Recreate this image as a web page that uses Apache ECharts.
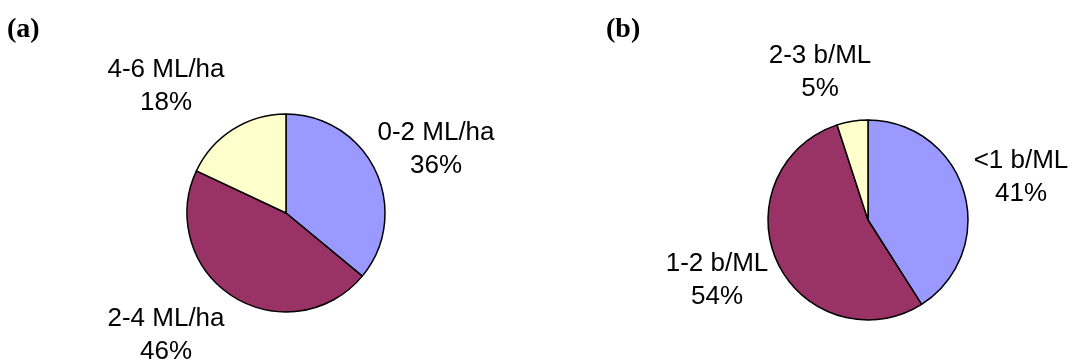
<!DOCTYPE html>
<html>
<head>
<meta charset="utf-8">
<script src="https://cdn.jsdelivr.net/npm/echarts@6/dist/echarts.min.js"></script>
<style>
  html, body { margin: 0; padding: 0; background: #fff; }
  #pieChart { width: 1077px; height: 360px; }
</style>
</head>
<body>
<div id="pieChart"></div>
<script>
// 两个饼图 (a) 灌溉量 (b) 比例
var namesA = ['0-2 ML/ha', '2-4 ML/ha', '4-6 ML/ha']
var valuesA = [36, 46, 18]
var namesB = ['<1 b/ML', '1-2 b/ML', '2-3 b/ML']
var valuesB = [41, 54, 5]
var panelTitles = ['(a)', '(b)']

var pieColors = ['#9999ff', '#993366', '#ffffcc']

// 标签位置 (像素)
var labelPosA = [[436, 149], [166, 335], [166, 86]]
var labelPosB = [[1021, 177], [717, 280], [820, 72]]

var pieDom = document.getElementById('pieChart')
var pieChart = echarts.init(pieDom)

function toData(names, values) {
  return names.map(function (n, i) {
    return { name: n, value: values[i] }
  })
}

function initPieSeries(data, center, radius, pos) {
  return {
    type: 'pie',
    radius: radius,
    center: center,
    startAngle: 90,
    clockwise: true,
    animation: false,
    silent: true,
    color: pieColors,
    itemStyle: {
      borderColor: '#000',
      borderWidth: 1.5
    },
    label: {
      show: true,
      position: 'outside',
      overflow: 'none',
      formatter: '{b}\n{c}%',
      color: '#000',
      fontFamily: 'Liberation Sans, Arial',
      fontSize: 26,
      lineHeight: 33,
      align: 'center'
    },
    labelLine: { show: false },
    labelLayout: function (params) {
      var p = pos[params.dataIndex]
      return { x: p[0], y: p[1], align: 'center', verticalAlign: 'middle', width: 200 }
    },
    data: data
  }
}

var titleStyle = { fontFamily: 'Liberation Serif', fontWeight: 'bold', fontSize: 28, color: '#000' }

var option = {
  title: [
    { text: panelTitles[0], left: 2, top: 11, textStyle: titleStyle },
    { text: panelTitles[1], left: 601, top: 11, textStyle: titleStyle }
  ],
  series: [
    initPieSeries(toData(namesA, valuesA), [286, 213], 99, labelPosA),
    initPieSeries(toData(namesB, valuesB), [868, 220], 100, labelPosB)
  ]
}

pieChart.setOption(option)
</script>
</body>
</html>
